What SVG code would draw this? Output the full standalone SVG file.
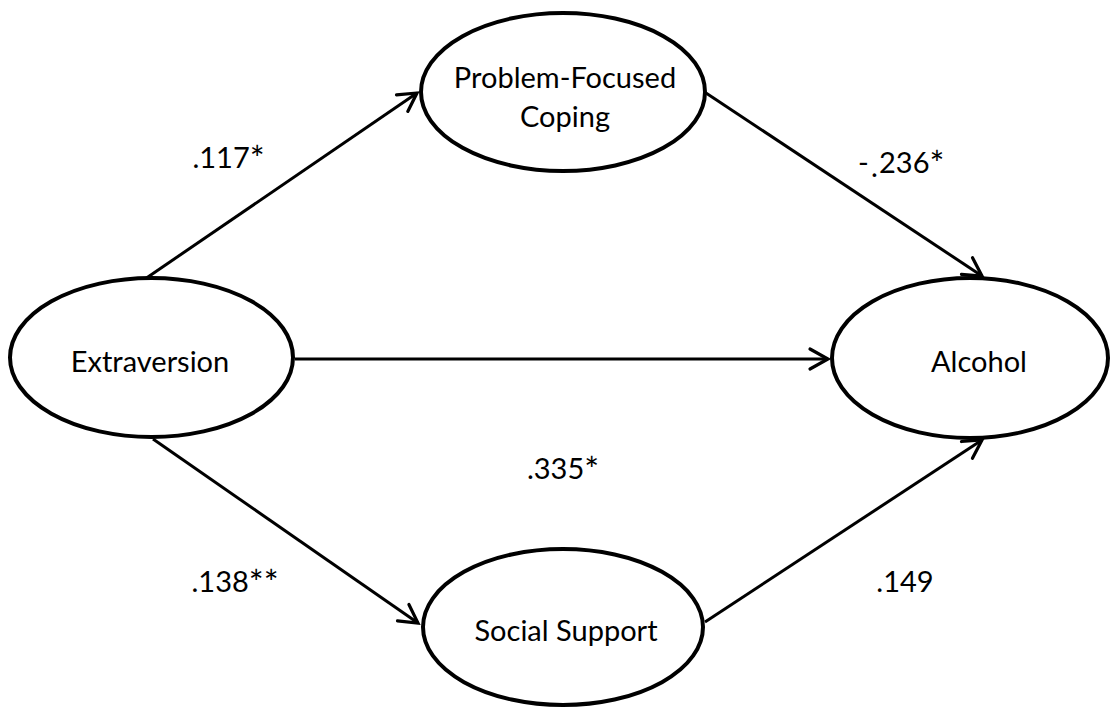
<svg xmlns="http://www.w3.org/2000/svg" width="1112" height="707" viewBox="0 0 1112 707">
  <style>
    .node { fill: #ffffff; stroke: #000000; stroke-width: 4; }
    .label { font-family: Lato, "Open Sans", "Liberation Sans", sans-serif; font-size: 29px; fill: #000000; text-anchor: middle; }
    .coef { font-family: Lato, "Open Sans", "Liberation Sans", sans-serif; font-size: 29px; fill: #000000; text-anchor: middle; }
    .star { font-size: 35px; }
    .path { stroke: #000000; stroke-width: 3; fill: none; marker-end: url(#arrow); }
  </style>
  <defs>
    <marker id="arrow" markerUnits="userSpaceOnUse" viewBox="-22 -13 26 26" refX="0" refY="0" markerWidth="26" markerHeight="26" orient="auto">
      <path d="M-18,-10 L0,0 L-18,10" fill="none" stroke="#000000" stroke-width="3.2" stroke-linecap="round" stroke-linejoin="miter"/>
    </marker>
  </defs>
  <rect width="1112" height="707" fill="#ffffff"/>

  <!-- paths between constructs -->
  <g id="connectors">
    <line class="path" x1="145" y1="279" x2="417" y2="93"/>
    <line class="path" x1="706" y1="93" x2="982" y2="276"/>
    <line class="path" x1="295" y1="359" x2="828" y2="359"/>
    <line class="path" x1="153" y1="439" x2="418" y2="623"/>
    <line class="path" x1="705" y1="622" x2="982" y2="440"/>
  </g>

  <g id="extraversion">
    <ellipse class="node" cx="151.5" cy="357.5" rx="141.5" ry="79.5"/>
    <text class="label" x="150" y="372">Extraversion</text>
  </g>

  <g id="problem-focused-coping">
    <ellipse class="node" cx="563" cy="92" rx="142" ry="79"/>
    <text class="label" x="565" y="88">Problem-Focused</text>
    <text class="label" x="565" y="127">Coping</text>
  </g>

  <g id="alcohol">
    <ellipse class="node" cx="970" cy="358" rx="138" ry="80"/>
    <text class="label" x="979" y="372">Alcohol</text>
  </g>

  <g id="social-support">
    <ellipse class="node" cx="563" cy="627" rx="140" ry="78"/>
    <text class="label" x="566" y="641">Social Support</text>
  </g>

  <!-- path coefficients -->
  <g id="coefficients">
    <text class="coef" x="228.5" y="168">.117<tspan class="star" dy="3">*</tspan></text>
    <text class="coef" style="text-anchor:start"><tspan x="858" y="173">-</tspan><tspan x="871" y="177">.</tspan><tspan x="879" y="173">236</tspan><tspan class="star" dy="3">*</tspan></text>
    <text class="coef" x="563" y="479">.335<tspan class="star" dy="3">*</tspan></text>
    <text class="coef" x="235" y="592">.138<tspan class="star" dy="3">**</tspan></text>
    <text class="coef" x="905" y="592">.149</text>
  </g>
</svg>
